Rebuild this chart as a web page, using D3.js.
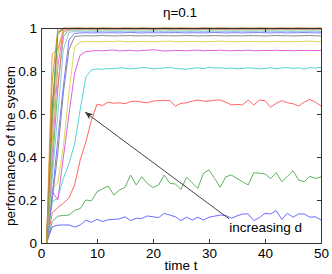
<!DOCTYPE html>
<html><head><meta charset="utf-8">
<script src="https://cdn.jsdelivr.net/npm/d3@7"></script>
<style>html,body{margin:0;padding:0;background:#fff;}svg{display:block;font-family:"Liberation Sans",Arial,sans-serif;}</style>
</head><body>
<svg id="c" width="332" height="274"></svg>
<script>
const titleText = "η=0.1";
const xLabel = "time t";
const yLabel = "performance of the system";
const xTicks = [0,10,20,30,40,50];
const yTicks = [0,0.2,0.4,0.6,0.8,1];
const yTickLabels = ["0","0.2","0.4","0.6","0.8","1"];
const time = [1,2,3,4,5,6,7,8,9,10,11,12,13,14,15,16,17,18,19,20,21,22,23,24,25,26,27,28,29,30,31,32,33,34,35,36,37,38,39,40,41,42,43,44,45,46,47,48,49,50];

const s1 = [0,0.075,0.083,0.084,0.084,0.074,0.084,0.106,0.096,0.11,
            0.1,0.108,0.11,0.112,0.122,0.104,0.115,0.114,0.126,0.122,
            0.118,0.138,0.13,0.122,0.104,0.12,0.107,0.12,0.107,0.12,
            0.125,0.13,0.128,0.115,0.126,0.135,0.135,0.104,0.118,0.138,
            0.135,0.15,0.11,0.138,0.12,0.135,0.135,0.12,0.122,0.107];
const s2 = [0,0.1,0.125,0.128,0.13,0.152,0.16,0.2,0.196,0.238,
            0.252,0.265,0.223,0.246,0.259,0.316,0.27,0.308,0.277,0.258,
            0.27,0.316,0.278,0.274,0.25,0.306,0.28,0.254,0.324,0.34,
            0.3,0.259,0.308,0.316,0.3,0.285,0.27,0.327,0.325,0.321,
            0.3,0.327,0.285,0.31,0.336,0.293,0.285,0.311,0.3,0.308];
const s3 = [0,0.14,0.165,0.185,0.21,0.27,0.386,0.47,0.57,0.645,
            0.64,0.655,0.65,0.652,0.648,0.658,0.66,0.655,0.652,0.66,
            0.662,0.664,0.662,0.637,0.65,0.652,0.66,0.665,0.66,0.66,
            0.664,0.665,0.655,0.642,0.645,0.642,0.665,0.642,0.665,0.662,
            0.631,0.65,0.662,0.652,0.648,0.637,0.655,0.668,0.655,0.637];
const s4 = [0,0.19,0.21,0.3,0.37,0.46,0.62,0.77,0.805,0.81,
            0.808,0.812,0.81,0.815,0.813,0.81,0.812,0.816,0.815,0.81,
            0.812,0.814,0.818,0.812,0.81,0.808,0.812,0.815,0.81,0.818,
            0.814,0.815,0.812,0.814,0.81,0.812,0.815,0.813,0.81,0.812,
            0.815,0.81,0.814,0.816,0.812,0.815,0.808,0.816,0.814,0.817];
const s5 = [0,0.24,0.2,0.4,0.6,0.79,0.874,0.89,0.893,0.895,
            0.894,0.896,0.898,0.893,0.895,0.896,0.893,0.895,0.897,0.899,
            0.896,0.893,0.894,0.896,0.895,0.894,0.896,0.897,0.894,0.896,
            0.895,0.897,0.895,0.894,0.896,0.895,0.897,0.894,0.895,0.896,
            0.895,0.897,0.895,0.896,0.894,0.896,0.895,0.896,0.895,0.896];
const s6 = [0,0.25,0.28,0.45,0.7,0.913,0.935,0.937,0.938,0.936,
            0.937,0.938,0.937,0.939,0.937,0.936,0.938,0.937,0.938,0.936,
            0.937,0.938,0.939,0.937,0.936,0.937,0.938,0.937,0.936,0.938,
            0.937,0.939,0.938,0.937,0.936,0.937,0.938,0.937,0.938,0.936,
            0.937,0.938,0.937,0.936,0.938,0.937,0.938,0.939,0.937,0.936];
const s7 = [0,0.2,0.42,0.7,0.9,0.96,0.963,0.964,0.963,0.964,
            0.965,0.964,0.963,0.964,0.964,0.965,0.963,0.964,0.964,0.963,
            0.965,0.964,0.964,0.963,0.964,0.965,0.964,0.963,0.964,0.964,
            0.965,0.964,0.963,0.964,0.964,0.963,0.965,0.964,0.964,0.963,
            0.964,0.965,0.964,0.964,0.963,0.964,0.964,0.965,0.964,0.963];
const s8 = [0,0.22,0.48,0.73,0.944,0.975,0.977,0.978,0.977,0.978,
            0.977,0.978,0.978,0.977,0.978,0.979,0.978,0.977,0.978,0.978,
            0.977,0.978,0.978,0.979,0.978,0.977,0.978,0.978,0.977,0.978,
            0.979,0.978,0.977,0.978,0.978,0.977,0.978,0.978,0.979,0.978,
            0.977,0.978,0.978,0.977,0.978,0.978,0.979,0.978,0.977,0.978];
const s9 = [0,0.3,0.6,0.9,0.98,0.984,0.985,0.984,0.985,0.984,
            0.984,0.985,0.984,0.984,0.985,0.984,0.985,0.984,0.984,0.985,
            0.984,0.984,0.985,0.984,0.985,0.984,0.984,0.985,0.984,0.984,
            0.985,0.984,0.985,0.984,0.984,0.985,0.984,0.984,0.985,0.984,
            0.985,0.984,0.984,0.985,0.984,0.984,0.985,0.984,0.985,0.984];
const s10 = [0,0.35,0.72,0.96,0.99,0.991,0.991,0.992,0.991,0.991,
             0.992,0.991,0.991,0.991,0.992,0.991,0.991,0.992,0.991,0.991,
             0.991,0.992,0.991,0.991,0.992,0.991,0.991,0.991,0.992,0.991,
             0.991,0.992,0.991,0.991,0.991,0.992,0.991,0.991,0.992,0.991,
             0.991,0.991,0.992,0.991,0.991,0.992,0.991,0.991,0.991,0.992];
const s11 = [0,0.68,0.72,0.98,0.994,0.994,0.995,0.994,0.994,0.995,
             0.994,0.994,0.994,0.995,0.994,0.994,0.995,0.994,0.994,0.994,
             0.995,0.994,0.994,0.995,0.994,0.994,0.994,0.995,0.994,0.994,
             0.995,0.994,0.994,0.994,0.995,0.994,0.994,0.995,0.994,0.994,
             0.994,0.995,0.994,0.994,0.995,0.994,0.994,0.994,0.995,0.994];
const s12 = [0,0.4,0.82,0.99,0.995,0.995,0.996,0.995,0.995,0.995,
             0.996,0.995,0.995,0.995,0.996,0.995,0.995,0.996,0.995,0.995,
             0.995,0.996,0.995,0.995,0.996,0.995,0.995,0.995,0.996,0.995,
             0.995,0.996,0.995,0.995,0.995,0.996,0.995,0.995,0.996,0.995,
             0.995,0.995,0.996,0.995,0.995,0.996,0.995,0.995,0.995,0.996];
const s13 = [0,0.46,0.88,0.995,0.996,0.996,0.997,0.996,0.996,0.996,
             0.997,0.996,0.996,0.997,0.996,0.996,0.996,0.997,0.996,0.996,
             0.997,0.996,0.996,0.996,0.997,0.996,0.996,0.997,0.996,0.996,
             0.996,0.997,0.996,0.996,0.997,0.996,0.996,0.996,0.997,0.996,
             0.996,0.997,0.996,0.996,0.996,0.997,0.996,0.996,0.997,0.996];
const s14 = [0,0.88,0.9,0.996,0.997,0.997,0.998,0.997,0.997,0.997,
             0.998,0.997,0.997,0.997,0.998,0.997,0.997,0.998,0.997,0.997,
             0.997,0.998,0.997,0.997,0.998,0.997,0.997,0.997,0.998,0.997,
             0.997,0.998,0.997,0.997,0.997,0.998,0.997,0.997,0.998,0.997,
             0.997,0.997,0.998,0.997,0.997,0.998,0.997,0.997,0.997,0.998];
const s15 = [0,0.55,0.97,0.998,0.998,0.998,0.999,0.998,0.998,0.998,
             0.999,0.998,0.998,0.998,0.999,0.998,0.998,0.999,0.998,0.998,
             0.998,0.999,0.998,0.998,0.999,0.998,0.998,0.998,0.999,0.998,
             0.998,0.999,0.998,0.998,0.998,0.999,0.998,0.998,0.999,0.998,
             0.998,0.998,0.999,0.998,0.998,0.999,0.998,0.998,0.998,0.999];
const s16 = [0,0.62,0.98,0.998,0.998,0.999,0.998,0.998,0.999,0.998,
             0.998,0.999,0.998,0.998,0.998,0.999,0.998,0.998,0.999,0.998,
             0.998,0.998,0.999,0.998,0.998,0.999,0.998,0.998,0.998,0.999,
             0.998,0.998,0.999,0.998,0.998,0.998,0.999,0.998,0.998,0.999,
             0.998,0.998,0.998,0.999,0.998,0.998,0.999,0.998,0.998,0.998];
const s17 = [0,0.75,0.995,0.999,0.999,0.999,1,0.999,0.999,0.999,
             1,0.999,0.999,0.999,1,0.999,0.999,1,0.999,0.999,
             0.999,1,0.999,0.999,1,0.999,0.999,0.999,1,0.999,
             0.999,1,0.999,0.999,0.999,1,0.999,0.999,1,0.999,
             0.999,0.999,1,0.999,0.999,1,0.999,0.999,0.999,1];

const seriesList = [s1,s2,s3,s4,s5,s6,s7,s8,s9,s10,s11,s12,s13,s14,s15,s16,s17];
const seriesColors = ["#6b6bff","#5fb35f","#ff6464","#55d5d5","#df5fdf","#d8d85a","#8a8a8a","#7a7aff",
                      "#8cc8ee","#66bb66","#ff7a7a","#e07ae0","#c8c860","#f0a040","#b8864a","#4f9f4f","#d09030"];

const arrowFrom = [33.6, 0.112];
const arrowTo = [7.86, 0.609];
const annotText = "increasing d";
const annotPos = [33.6, 0.051];

const FS = "13.5px";
const svg = d3.select("#c");
const x = d3.scaleLinear().domain([0,50]).range([41,321]);
const y = d3.scaleLinear().domain([0,1]).range([243,28]);

const line = d3.line().x((d,i)=>x(time[i])).y(d=>y(d));
const g = svg.append("g");
seriesList.forEach((s,k)=>{
  g.append("path").datum(s).attr("d",line).attr("fill","none")
   .attr("stroke",seriesColors[k]).attr("stroke-width",1);
});

const axColor = "#333";
const axBottom = svg.append("g").attr("transform","translate(0,243)")
  .call(d3.axisBottom(x).tickValues(xTicks).tickSize(-4).tickPadding(5).tickFormat(d3.format("d")));
const axTop = svg.append("g").attr("transform","translate(0,28)")
  .call(d3.axisTop(x).tickValues(xTicks).tickSize(-4).tickFormat(""));
const axLeft = svg.append("g").attr("transform","translate(41,0)")
  .call(d3.axisLeft(y).tickValues(yTicks).tickSize(-4).tickPadding(4).tickFormat((d,i)=>yTickLabels[i]));
const axRight = svg.append("g").attr("transform","translate(321,0)")
  .call(d3.axisRight(y).tickValues(yTicks).tickSize(-4).tickFormat(""));
[axBottom,axTop,axLeft,axRight].forEach(a=>{
  a.selectAll(".domain").attr("stroke",axColor).attr("stroke-width",1);
  a.selectAll(".tick line").attr("stroke",axColor);
  a.selectAll("text").attr("fill","#000").style("font-size",FS).style("font-family","'Liberation Sans',Arial,sans-serif");
});

svg.append("defs").append("marker").attr("id","ah").attr("viewBox","0 0 10 10")
  .attr("refX",10).attr("refY",5).attr("markerWidth",8).attr("markerHeight",8)
  .attr("markerUnits","userSpaceOnUse").attr("orient","auto")
  .append("path").attr("d","M0,1 L10,5 L0,9 L3,5 Z").attr("fill","#333");
svg.append("line").attr("x1",x(arrowFrom[0])).attr("y1",y(arrowFrom[1]))
  .attr("x2",x(arrowTo[0])).attr("y2",y(arrowTo[1]))
  .attr("stroke","#444").attr("stroke-width",1).attr("marker-end","url(#ah)");
svg.append("text").attr("x",x(annotPos[0])).attr("y",y(annotPos[1]))
  .style("font-size",FS).attr("fill","#000").text(annotText);

svg.append("text").attr("x",180).attr("y",17).attr("text-anchor","middle")
  .style("font-size",FS).text(titleText);
svg.append("text").attr("x",181).attr("y",270).attr("text-anchor","middle")
  .style("font-size",FS).text(xLabel);
svg.append("text").attr("transform","translate(15,146) rotate(-90)").attr("text-anchor","middle")
  .style("font-size",FS).text(yLabel);
</script>
</body></html>
